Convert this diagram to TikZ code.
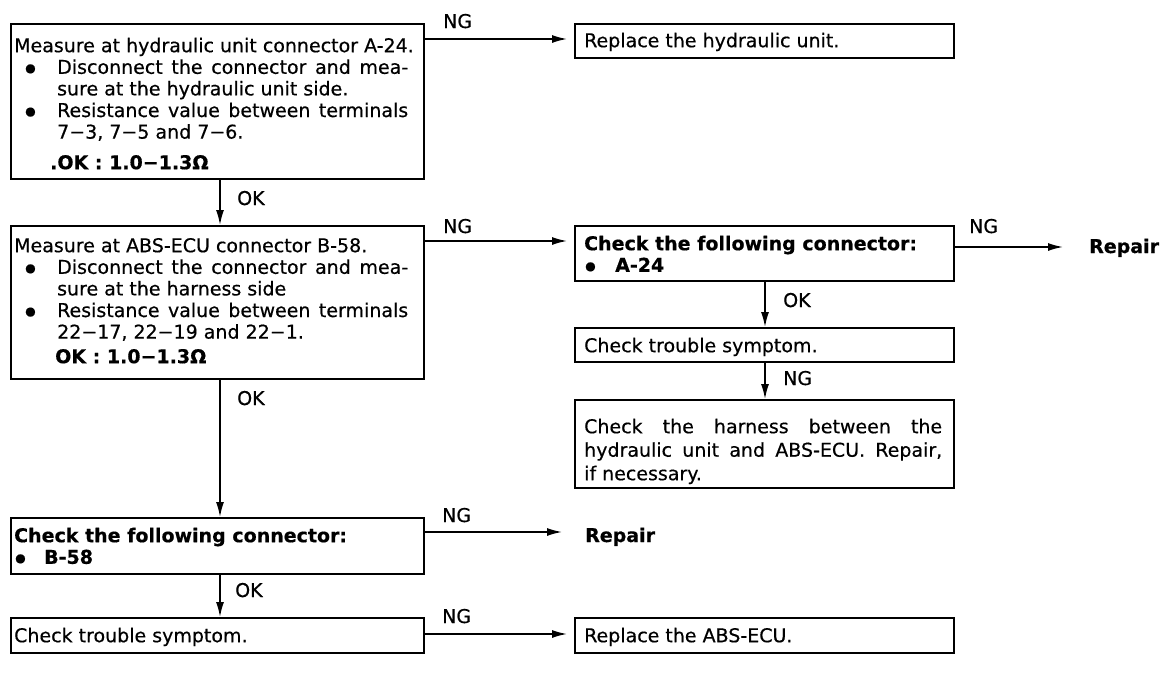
\documentclass[tikz,border=0pt]{standalone}
\usepackage{fontspec}
\setmainfont{DejaVu Sans}[FakeBold=0.5, BoldFeatures={FakeBold=0.5}]
\usetikzlibrary{arrows.meta}
\newcommand\fsz{\fontsize{19}{21.6}\selectfont}
\newcommand\firstln{\rule{0pt}{15pt}}
\newcommand\dotb{\raisebox{1.8pt}{\fontsize{12}{12}\selectfont ●}}
\newcommand\bul[1]{\makebox[43pt][l]{\hspace{11pt}\dotb}#1}
\newcommand\ind{\hspace*{43pt}}
\begin{document}
\begin{tikzpicture}[x=1pt,y=-1pt,
  box/.style={draw, line width=2pt, inner sep=0pt, anchor=north west},
  txt/.style={inner sep=0pt, anchor=north west, font=\fsz, align=left},
  lbl/.style={inner sep=0pt, anchor=base west, font=\fsz},
  arr/.style={line width=1.5pt, -{Latex[length=15pt,width=8pt]}},
]
\useasboundingbox (0,0) rectangle (1168,694);

% ---------- boxes ----------
\node[box, minimum width=413pt, minimum height=155pt] (b1) at (10,23) {};
\node[box, minimum width=413pt, minimum height=153pt] (b2) at (10,225) {};
\node[box, minimum width=413pt, minimum height=56pt]  (b4) at (10,517) {};
\node[box, minimum width=413pt, minimum height=35pt]  (t1) at (10,617) {};
\node[box, minimum width=379pt, minimum height=34pt]  (r1) at (574,23) {};
\node[box, minimum width=379pt, minimum height=55pt]  (b3) at (574,225) {};
\node[box, minimum width=379pt, minimum height=34pt]  (t2) at (574,327) {};
\node[box, minimum width=379pt, minimum height=88pt]  (h)  at (574,399) {};
\node[box, minimum width=379pt, minimum height=35pt]  (r2) at (574,617) {};

% ---------- texts ----------
\node[txt] (b1t) at (14,37) {\parbox[t]{400pt}{\firstln Measure at hydraulic unit connector A-24.\\
\bul{\makebox[351pt][s]{Disconnect the connector and mea-}}\\
\ind sure at the hydraulic unit side.\\
\bul{\makebox[351pt][s]{Resistance value between terminals}}\\
\ind 7−3, 7−5 and 7−6.\\[9pt]
\hspace*{36pt}\textbf{.OK : 1.0−1.3Ω}}};

\node[txt] (b2t) at (14,237) {\parbox[t]{400pt}{\firstln Measure at ABS-ECU connector B-58.\\
\bul{\makebox[351pt][s]{Disconnect the connector and mea-}}\\
\ind sure at the harness side\\
\bul{\makebox[351pt][s]{Resistance value between terminals}}\\
\ind 22−17, 22−19 and 22−1.\\[3pt]
\hspace*{41pt}\textbf{OK : 1.0−1.3Ω}}};

\node[txt] (b4t) at (14,527) {\parbox[t]{400pt}{\firstln\textbf{Check the following connector:}\\
\makebox[30pt][l]{\hspace{1pt}\dotb}\textbf{B-58}}};

\node[txt] (t1t) at (14,627) {\parbox[t]{400pt}{\firstln Check trouble symptom.}};
\node[txt] (r1t) at (584,32) {\parbox[t]{360pt}{\firstln Replace the hydraulic unit.}};
\node[txt] (b3t) at (584,235) {\parbox[t]{360pt}{\firstln\textbf{Check the following connector:}\\
\makebox[31pt][l]{\hspace{1pt}\dotb}\textbf{A-24}}};
\node[txt] (t2t) at (584,337) {\parbox[t]{360pt}{\firstln Check trouble symptom.}};
\node[txt] (ht) at (584,418) {\parbox[t]{360pt}{\fontsize{19}{23.5}\selectfont\firstln\makebox[358pt][s]{Check the harness between the}\\
\makebox[358pt][s]{hydraulic unit and ABS-ECU. Repair,}\\
if necessary.}};
\node[txt] (r2t) at (584,627) {\parbox[t]{360pt}{\firstln Replace the ABS-ECU.}};

\node[lbl, font=\fsz\bfseries] (rp1) at (1089,253) {Repair};
\node[lbl, font=\fsz\bfseries] (rp2) at (585,542) {Repair};

% ---------- labels ----------
\node[lbl] (ng1) at (443,28)  {NG};
\node[lbl] (ng2) at (443,233) {NG};
\node[lbl] (ng3) at (969,233) {NG};
\node[lbl] (ng4) at (442,522) {NG};
\node[lbl] (ng5) at (442,623) {NG};
\node[lbl] (ng6) at (783,385) {NG};
\node[lbl] (ok1) at (237,205) {OK};
\node[lbl] (ok2) at (237,405) {OK};
\node[lbl] (ok3) at (235,597) {OK};
\node[lbl] (ok4) at (783,307) {OK};

% ---------- connectors ----------
\coordinate (xl) at (220,0);
\coordinate (xr) at (765,0);
\draw[arr] (b1.south -| xl) -- (b2.north -| xl);
\draw[arr] (b2.south -| xl) -- (b4.north -| xl);
\draw[arr] (b4.south -| xl) -- (t1.north -| xl);
\draw[arr] (b3.south -| xr) -- (t2.north -| xr);
\draw[arr] (t2.south -| xr) -- (h.north -| xr);

\draw[arr, shorten >=7pt] (b1.east |- 0,39) -- (r1.west |- 0,39);
\draw[arr, shorten >=7pt] (b2.east |- 0,241) -- (b3.west |- 0,241);
\draw[arr, shorten >=7pt] (t1.east |- 0,634) -- (r2.west |- 0,634);
\draw[arr, shorten >=23pt] (b4.east |- 0,532) -- (rp2.west |- 0,532);
\draw[arr, shorten >=26pt] (b3.east |- 0,247) -- (rp1.west |- 0,247);
\end{tikzpicture}
\end{document}
